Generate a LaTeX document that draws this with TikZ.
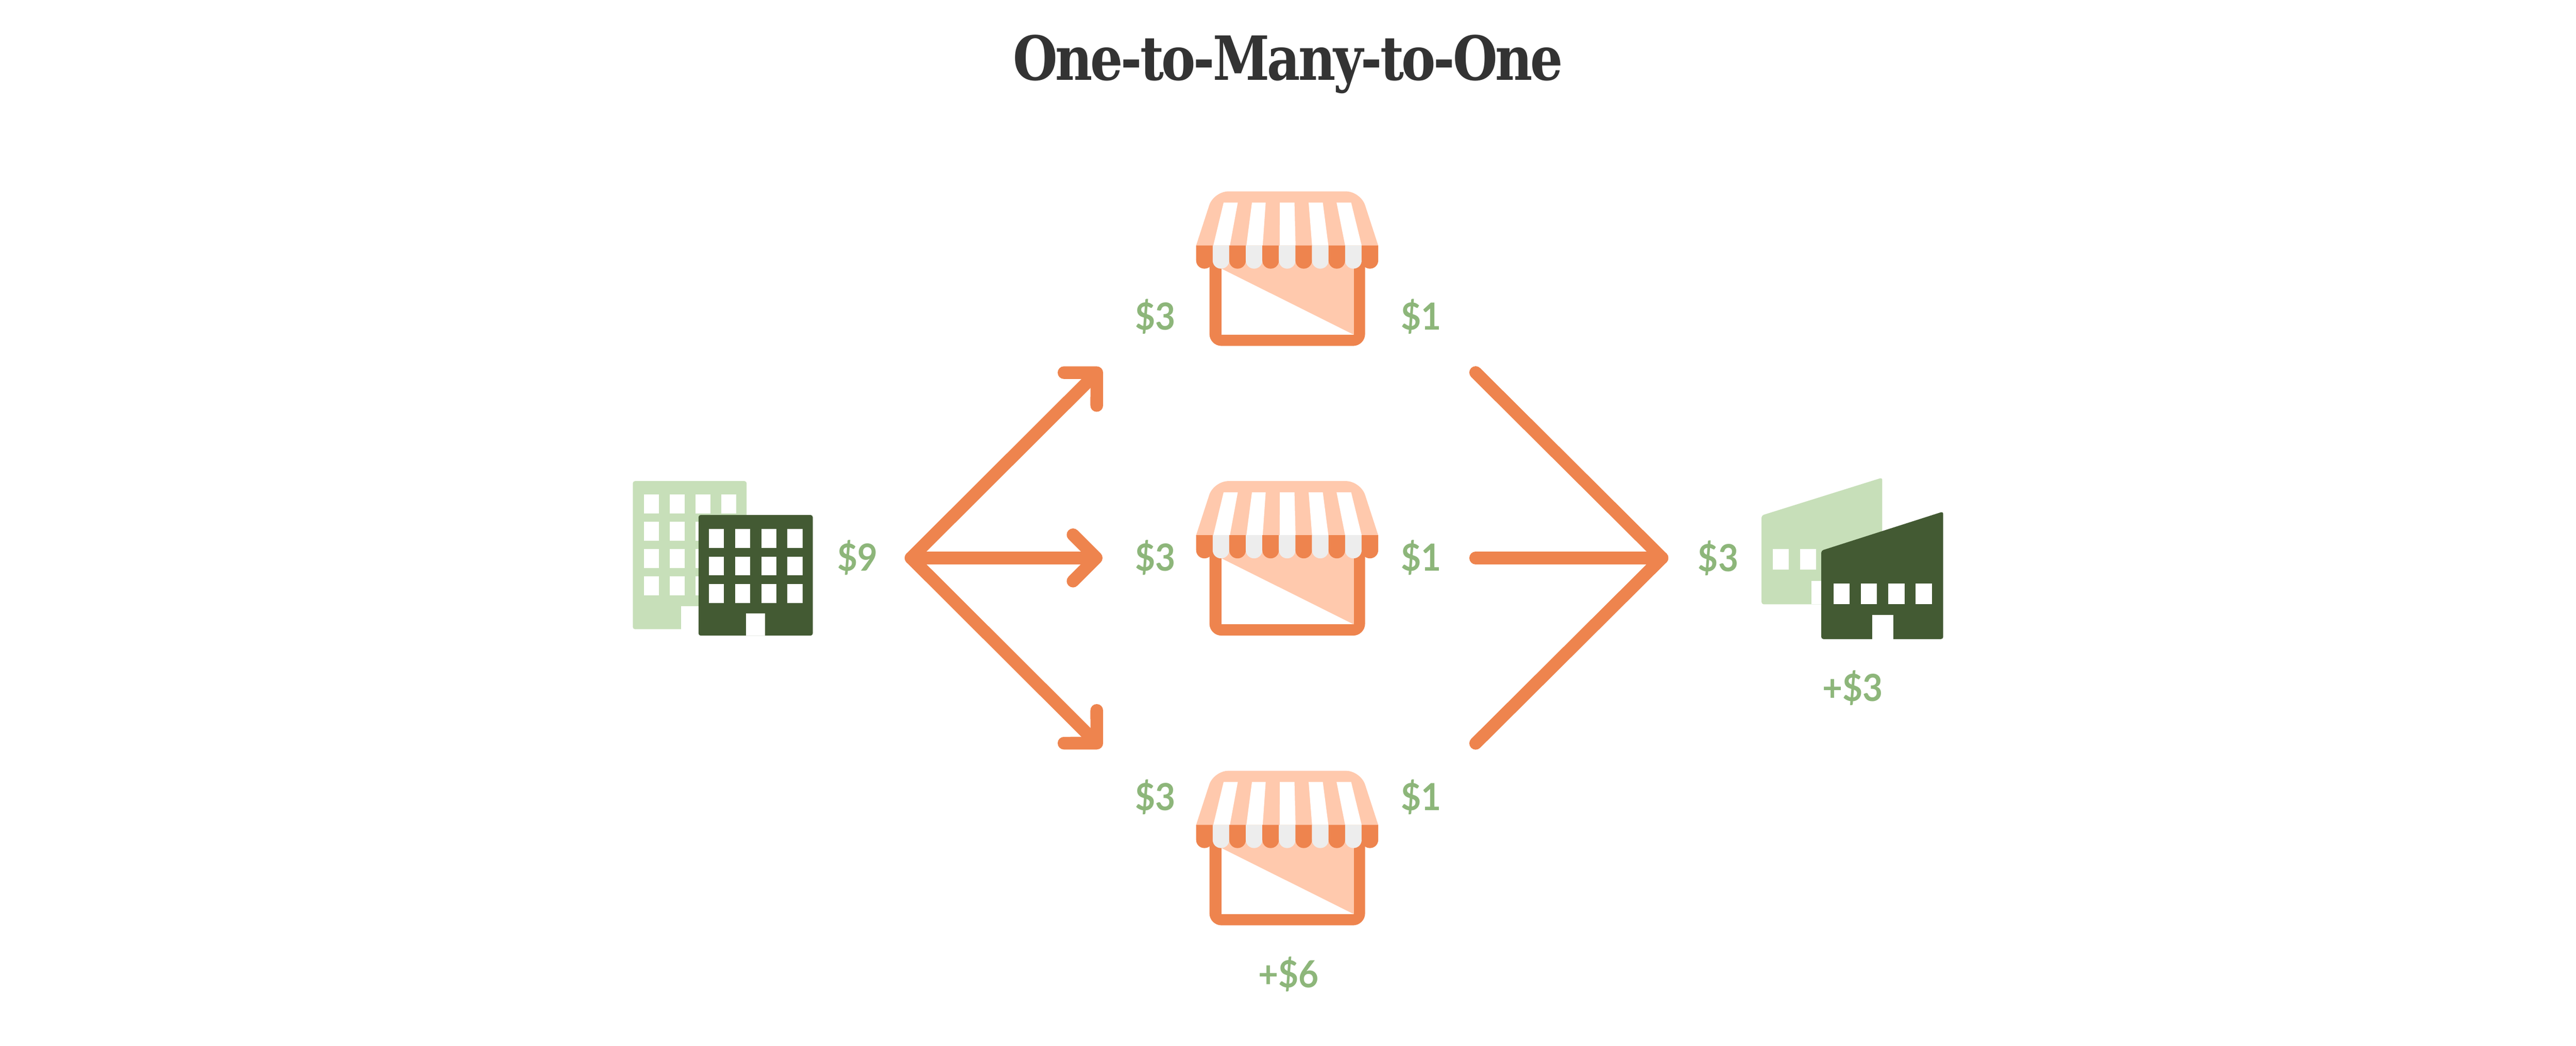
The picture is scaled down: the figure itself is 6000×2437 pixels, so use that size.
\documentclass[tikz,border=0pt]{standalone}
\usepackage{fontspec}
\setmainfont[FakeStretch=0.93]{Lato}
\newfontfamily\titlefont[FakeStretch=0.84,LetterSpace=-3.5]{DejaVu Serif}
\usetikzlibrary{arrows.meta}
\definecolor{oran}{HTML}{EE844E}
\definecolor{peach}{HTML}{FFC9AD}
\definecolor{pale}{HTML}{EDEDED}
\definecolor{lgreen}{HTML}{C7DFB9}
\definecolor{dgreen}{HTML}{435A33}
\definecolor{money}{HTML}{8DB67A}
\definecolor{ink}{HTML}{333333}
\tikzset{
  flow/.style={draw=oran,line width=2.95pt,line cap=round,line join=round},
  flowarrow/.style={flow,-{Straight Barb[length=5.4pt,width=10.8pt,round]}},
  amount/.style={text=money,font=\bfseries\fontsize{8.7pt}{10pt}\selectfont,inner sep=0pt,anchor=base},
  pics/store/.style={code={
    % walls
    \fill[oran] (31,160) [rounded corners=2.8pt] -- (31,360) -- (393.5,360) [sharp corners] -- (393.5,160) -- cycle;
    \fill[white] (59,160) rectangle (367.5,334);
    \fill[peach] (59,180) -- (59,160) -- (367.5,160) -- (367.5,334) -- cycle;
    % awning
    \fill[peach] (0,127) -- (0,126) [rounded corners=3.4pt] -- (41,0) -- (383,0) [sharp corners] -- (424,126) -- (424,127) -- cycle;
    \fill[white] (64,26) -- (97,26) -- (78.6,126) -- (40,126) -- cycle;
    \fill[white] (130,26) -- (162,26) -- (155,126) -- (117,126) -- cycle;
    \fill[white] (195,26) -- (229,26) -- (231.6,126) -- (194.5,126) -- cycle;
    \fill[white] (262,26) -- (295,26) -- (308,126) -- (270,126) -- cycle;
    \fill[white] (327,26) -- (361,26) -- (385.5,126) -- (347,126) -- cycle;
    \foreach \i/\c in {0/oran,1/pale,2/oran,3/pale,4/oran,5/pale,6/oran,7/pale,8/oran,9/pale,10/oran}{
      \fill[\c] ({\i*38.55},126) [rounded corners=1.9pt] -- ({\i*38.55},180) -- ({(\i+1)*38.55},180) [sharp corners] -- ({(\i+1)*38.55},126) -- cycle;
    }
  }}
}
\begin{document}
\begin{tikzpicture}[x=0.1pt,y=-0.1pt]
\useasboundingbox (0,0) rectangle (6000,2437);
\fill[white] (0,0) rectangle (6000,2437);

\node[text=ink,inner sep=0pt,anchor=base,font=\titlefont\bfseries\fontsize{14.2pt}{16pt}\selectfont] (title) at (3000,187) {One-to-Many-to-One};

% supplier building (left)
\fill[lgreen,rounded corners=0.5pt] (1474,1121) rectangle (1739,1466);
\foreach \x in {1499.5,1560,1620,1680}\foreach \y in {1152,1216,1279,1343}
  \fill[white] (\x,\y) rectangle ++(35,44.5);
\fill[white] (1586,1413) rectangle (1632,1466);
\fill[dgreen,rounded corners=0.5pt] (1627,1200) rectangle (1893,1481);
\foreach \x in {1651,1712,1773,1834}\foreach \y in {1233,1297,1361}
  \fill[white] (\x,\y) rectangle ++(35,44);
\fill[white] (1737,1429) rectangle (1782,1481);

% stores
\coordinate (storetop) at (2786,446);
\coordinate (storemid) at (2786,1121);
\coordinate (storebot) at (2786,1796);
\pic at (storetop) {store};
\pic at (storemid) {store};
\pic at (storebot) {store};

% warehouse (right)
\fill[lgreen,rounded corners=0.5pt] (4103,1408) -- (4103,1201) -- (4384,1113) -- (4384,1408) -- cycle;
\fill[white] (4128.6,1279) rectangle (4166.5,1327);
\fill[white] (4192.4,1279) rectangle (4230,1327);
\fill[white] (4219,1354) rectangle (4268,1408);
\fill[dgreen,rounded corners=0.5pt] (4242,1489) -- (4242,1283) -- (4526,1192) -- (4526,1489) -- cycle;
\foreach \x in {4270.5,4334,4398,4462}
  \fill[white] (\x,1360) rectangle ++(38,48);
\fill[white] (4361,1433) rectangle (4410,1489);

% connectors
\coordinate (hub) at (2122,1300);
\coordinate (headtop) at (2565,858);
\coordinate (headmid) at (2568,1300);
\coordinate (headbot) at (2565,1742);
\coordinate (sink) at (3871,1300);
\coordinate (tailtop) at (3437,868);
\coordinate (tailmid) at (3437,1300);
\coordinate (tailbot) at (3437,1732);
\draw[flowarrow] (hub) -- (headtop);
\draw[flowarrow] (hub) -- (headmid);
\draw[flowarrow] (hub) -- (headbot);
\draw[flow] (tailtop) -- (sink);
\draw[flow] (tailmid) -- (sink);
\draw[flow] (tailbot) -- (sink);

% amounts
\node[amount] (nine) at (1997,1330) {\$9};
\node[amount] (intop) at (2691,769) {\$3};
\node[amount] (inmid) at (2691,1330) {\$3};
\node[amount] (inbot) at (2691,1888) {\$3};
\node[amount] (outtop) at (3310,769) {\$1};
\node[amount] (outmid) at (3310,1330) {\$1};
\node[amount] (outbot) at (3310,1888) {\$1};
\node[amount] (sinkamt) at (4002,1331) {\$3};
\node[amount] (gainstore) at (3001,2301) {+\$6};
\node[amount] (gainmaker) at (4315,1634) {+\$3};
\end{tikzpicture}
\end{document}
